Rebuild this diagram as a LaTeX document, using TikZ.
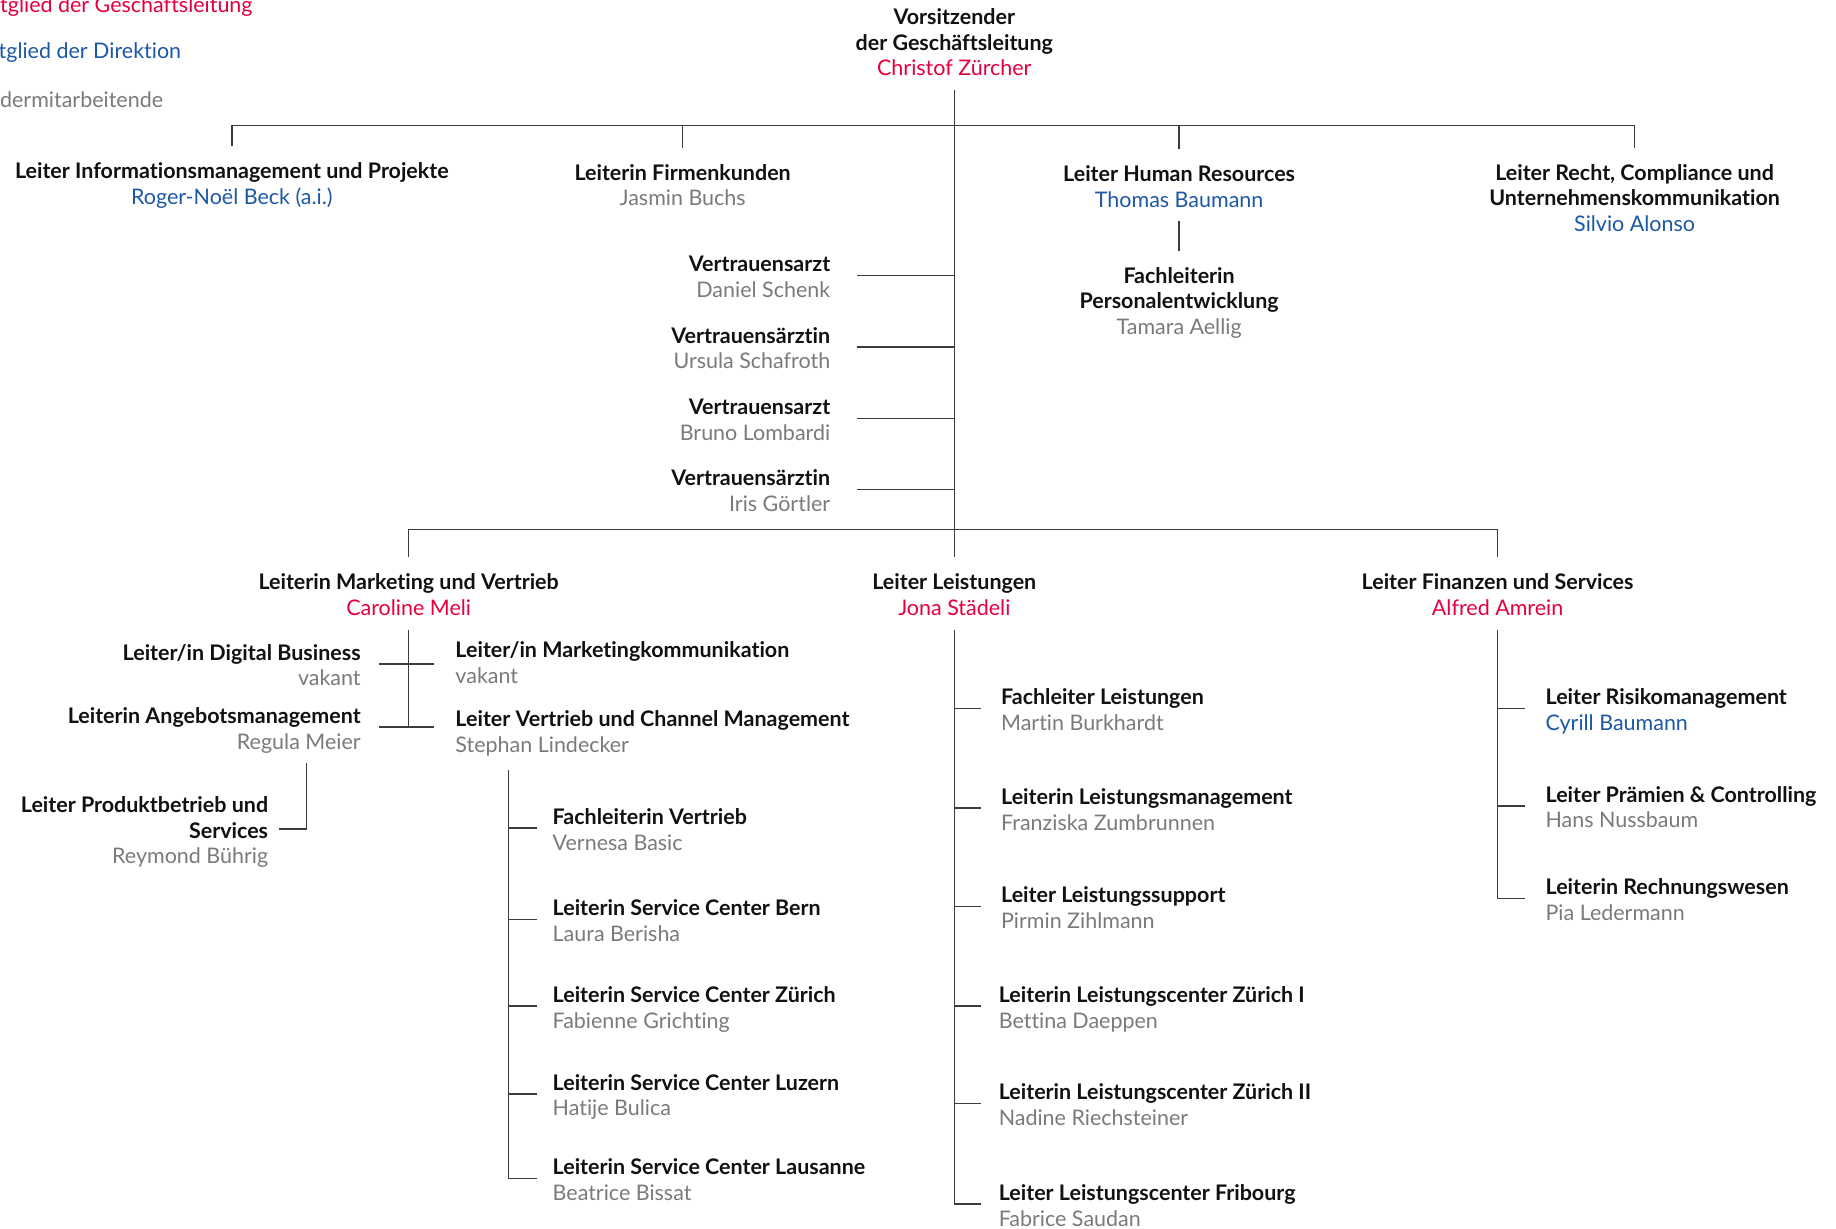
\documentclass[tikz,border=0pt]{standalone}
\usepackage{fontspec}
\setmainfont{Lato}[Ligatures=NoCommon]

\definecolor{glred}{RGB}{228,0,62}
\definecolor{glblue}{RGB}{28,88,166}
\definecolor{glgray}{RGB}{122,122,122}
\definecolor{gltext}{RGB}{17,17,17}
\definecolor{glline}{RGB}{60,60,60}

\newcommand{\hd}{\rule{0pt}{11.7pt}}
\newcommand{\who}[2]{\mdseries\textcolor{#1}{#2}\rule[-2.3pt]{0pt}{2.3pt}}

\tikzset{
	pers/.style={font=\fontsize{11}{13.2}\selectfont\bfseries, text=gltext, inner sep=0pt, outer ysep=5pt},
	mid/.style={pers, align=center, anchor=north},
	lhs/.style={pers, align=right, anchor=east, outer xsep=#1},
	rhs/.style={pers, align=left, anchor=west, outer xsep=#1},
	legendtext/.style={font=\fontsize{11}{13.2}\selectfont, inner sep=0pt, anchor=base east},
	link/.style={draw=glline, line width=0.7pt},
}

\begin{document}
\begin{tikzpicture}[x=0.6pt, y=-0.6pt]
	\useasboundingbox (0,0) rectangle (1568,1049);

	% legend
	\node[legendtext, text=glred] (lg1) at (216,10.8) {Mitglied der Geschäftsleitung};
	\node[legendtext, text=glblue] (lg2) at (155,49.8) {Mitglied der Direktion};
	\node[legendtext, text=glgray] (lg3) at (139.6,91.7) {Kadermitarbeitende};

	% top
	\node[mid] (ceo) at (815,-7) {\hd Vorsitzender\\der Geschäftsleitung\\\who{glred}{Christof Zürcher}};

	\node[mid] (im) at (198,125) {\hd Leiter Informationsmanagement und Projekte\\\who{glblue}{Roger-Noël Beck (a.i.)}};
	\node[mid] (fk) at (583,126) {\hd Leiterin Firmenkunden\\\who{glgray}{Jasmin Buchs}};
	\node[mid] (hr) at (1007,127) {\hd Leiter Human Resources\\\who{glblue}{Thomas Baumann}};
	\node[mid] (rc) at (1396,126) {\hd Leiter Recht, Compliance und\\Unternehmenskommunikation\\\who{glblue}{Silvio Alonso}};
	\node[mid] (pe) at (1007,214) {\hd Fachleiterin\\Personalentwicklung\\\who{glgray}{Tamara Aellig}};

	\node[lhs=13.8pt] (va1) at (732,235.2) {\hd Vertrauensarzt\\\who{glgray}{Daniel Schenk}};
	\node[lhs=13.8pt] (va2) at (732,296.2) {\hd Vertrauensärztin\\\who{glgray}{Ursula Schafroth}};
	\node[lhs=13.8pt] (va3) at (732,357.2) {\hd Vertrauensarzt\\\who{glgray}{Bruno Lombardi}};
	\node[lhs=13.8pt] (va4) at (732,418.2) {\hd Vertrauensärztin\\\who{glgray}{Iris Görtler}};

	% second level
	\node[mid] (mv) at (349,476) {\hd Leiterin Marketing und Vertrieb\\\who{glred}{Caroline Meli}};
	\node[mid] (ls) at (815,476) {\hd Leiter Leistungen\\\who{glred}{Jona Städeli}};
	\node[mid] (fs) at (1279,476) {\hd Leiter Finanzen und Services\\\who{glred}{Alfred Amrein}};

	% marketing und vertrieb
	\node[lhs=9.6pt] (db) at (324,567) {\hd Leiter/in Digital Business\\\who{glgray}{vakant}};
	\node[lhs=9.6pt] (am) at (324,621) {\hd Leiterin Angebotsmanagement\\\who{glgray}{Regula Meier}};
	\node[rhs=10.8pt] (mk) at (371,565) {\hd Leiter/in Marketingkommunikation\\\who{glgray}{vakant}};
	\node[rhs=10.8pt] (vc) at (371,624) {\hd Leiter Vertrieb und Channel Management\\\who{glgray}{Stephan Lindecker}};
	\node[lhs=5.4pt] (pb) at (238,708) {\hd Leiter Produktbetrieb und\\Services\\\who{glgray}{Reymond Bührig}};

	\node[rhs=7.8pt] (v1) at (459,707.2) {\hd Fachleiterin Vertrieb\\\who{glgray}{Vernesa Basic}};
	\node[rhs=7.8pt] (v2) at (459,785.2) {\hd Leiterin Service Center Bern\\\who{glgray}{Laura Berisha}};
	\node[rhs=7.8pt] (v3) at (459,859.2) {\hd Leiterin Service Center Zürich\\\who{glgray}{Fabienne Grichting}};
	\node[rhs=7.8pt] (v4) at (459,934.2) {\hd Leiterin Service Center Luzern\\\who{glgray}{Hatije Bulica}};
	\node[rhs=7.8pt] (v5) at (459,1006.2) {\hd Leiterin Service Center Lausanne\\\who{glgray}{Beatrice Bissat}};

	% leistungen
	\node[rhs=10.2pt] (l1) at (838,605.2) {\hd Fachleiter Leistungen\\\who{glgray}{Martin Burkhardt}};
	\node[rhs=10.2pt] (l2) at (838,690.2) {\hd Leiterin Leistungsmanagement\\\who{glgray}{Franziska Zumbrunnen}};
	\node[rhs=10.2pt] (l3) at (838,774.2) {\hd Leiter Leistungssupport\\\who{glgray}{Pirmin Zihlmann}};
	\node[rhs=9pt] (l4) at (838,859.2) {\hd Leiterin Leistungscenter Zürich I\\\who{glgray}{Bettina Daeppen}};
	\node[rhs=9pt] (l5) at (838,942.2) {\hd Leiterin Leistungscenter Zürich II\\\who{glgray}{Nadine Riechsteiner}};
	\node[rhs=9pt] (l6) at (838,1028.2) {\hd Leiter Leistungscenter Fribourg\\\who{glgray}{Fabrice Saudan}};

	% finanzen und services
	\node[rhs=10.8pt] (f1) at (1302,605.2) {\hd Leiter Risikomanagement\\\who{glblue}{Cyrill Baumann}};
	\node[rhs=10.8pt] (f2) at (1302,688.2) {\hd Leiter Prämien \& Controlling\\\who{glgray}{Hans Nussbaum}};
	\node[rhs=10.8pt] (f3) at (1302,767.2) {\hd Leiterin Rechnungswesen\\\who{glgray}{Pia Ledermann}};

	% lines
	\coordinate (bar1) at (815,107);
	\coordinate (bar2) at (815,452);
	\coordinate (am-foot) at (262,652);
	\coordinate (vc-foot) at (434,658);

	\draw[link] (ceo.south) -- (ls.north);
	\draw[link] (im.north) |- (bar1) -| (rc.north);
	\draw[link] (fk.north) -- (fk.north |- bar1);
	\draw[link] (hr.north) -- (hr.north |- bar1);
	\draw[link] (hr.south) -- (pe.north);
	\draw[link] (mv.north) |- (bar2) -| (fs.north);
	\foreach \i in {1,...,4}
		\draw[link] (va\i.east) -- (va\i.east -| bar1);

	\draw[link] (mv.south) -- (mv.south |- am.east);
	\draw[link] (db.east) -- (db.east -| mk.west);
	\draw[link] (am.east) -- (am.east -| vc.west);
	\draw[link] (am-foot) |- (pb.east);
	\foreach \i in {1,...,5}
		\draw[link] (vc-foot) |- (v\i.west);

	\foreach \i in {1,...,6}
		\draw[link] (ls.south) |- (l\i.west);
	\foreach \i in {1,...,3}
		\draw[link] (fs.south) |- (f\i.west);
\end{tikzpicture}
\end{document}
